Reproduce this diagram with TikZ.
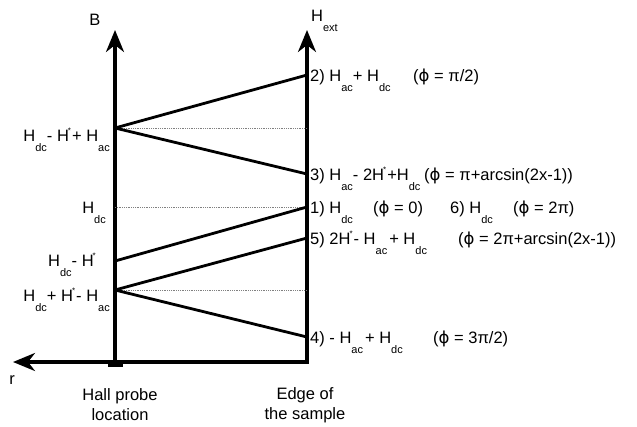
\documentclass[tikz,border=0pt]{standalone}
\usepackage{fontspec}
\setmainfont{Liberation Sans}
\newfontfamily\greekfont{DejaVu Sans}
\usetikzlibrary{arrows.meta}

% field symbols as printed: H with a low subscript, H with a star
\newcommand{\Hs}[1]{H\raisebox{-10pt}{\fontsize{11}{11}\selectfont #1}}
\newcommand{\Hstar}{H\kern-1pt\raisebox{8pt}{\fontsize{8}{8}\selectfont *}\kern1pt}
\newcommand{\phiS}{{\greekfont ϕ}}

\begin{document}
\begin{tikzpicture}[
    x=1pt, y=-1pt,
    >={Stealth[length=22pt, width=18pt, inset=7pt]},
    axis/.style={line width=3.3pt},
    ramp/.style={line width=2.8pt},
    guide/.style={gray, line width=0.8pt, densely dotted},
    lab/.style={font=\fontsize{16.5}{20}\selectfont, inner sep=0pt}
]
\useasboundingbox (0,0) rectangle (637,426);

% ---- axes: probe line (left) and sample edge (right) ----
\coordinate (ptop) at (115,30);
\coordinate (pbot) at (115,362);
\coordinate (etop) at (307,30);
\coordinate (ebot) at (307,362);
\coordinate (rtip) at (13,362);

\draw[axis, ->] (pbot) -- (ptop);
\draw[axis, <->] (rtip) -- (ebot) -- (etop);
\node[fill, minimum width=15pt, minimum height=6pt, inner sep=0pt, anchor=north] (probe) at (115,361) {};

% ---- field values at the probe ----
\coordinate (pA) at (115,128);
\coordinate (pD) at (115,207);
\coordinate (pS) at (115,261);
\coordinate (pB) at (115,290);

% ---- field values at the edge ----
\coordinate (e2) at (307,75);
\coordinate (eA) at (307,128);
\coordinate (e3) at (307,174);
\coordinate (e1) at (307,207);
\coordinate (e5) at (307,238);
\coordinate (eB) at (307,290);
\coordinate (e4) at (307,337);

% guides
\draw[guide] (pA) -- (eA);
\draw[guide] (pD) -- (e1);
\draw[guide] (pB) -- (eB);

% profiles
\draw[ramp] (pA) -- (e2);
\draw[ramp] (pA) -- (e3);
\draw[ramp] (pS) -- (e1);
\draw[ramp] (pB) -- (e5);
\draw[ramp] (pB) -- (e4);

% ---- axis labels ----
\node[lab] (lB) at (95,20) {B};
\node[lab, anchor=base west] (lHext) at (311,21) {\Hs{ext}};
\node[lab] (lr) at (12,380) {r};
\node[lab, align=center] (lhall) at (120,405) {Hall probe\\location};
\node[lab, align=center] (ledge) at (305,405) {Edge of\\the sample};

% ---- left labels ----
\node[lab, anchor=base east] (lA) at (110,141) {\Hs{dc}- \Hstar+ \Hs{ac}};
\node[lab, anchor=base east] (lD) at (106,213) {\Hs{dc}};
\node[lab, anchor=base east] (lS) at (97,266) {\Hs{dc}- \Hstar};
\node[lab, anchor=base east] (lBl) at (110,301) {\Hs{dc}+ \Hstar- \Hs{ac}};

% ---- right labels: field value, then phase ----
\node[lab, anchor=base west] (r2) at (310,81) {2) \Hs{ac}+ \Hs{dc}};
\node[lab, anchor=base west] (f2) at (413,81) {(\phiS\ = π/2)};
\node[lab, anchor=base west] (r3) at (310,180) {3) \Hs{ac}- 2\Hstar+\Hs{dc}};
\node[lab, anchor=base west] (f3) at (424,180) {(\phiS\ = π+arcsin(2x-1))};
\node[lab, anchor=base west] (r1) at (310,213) {1) \Hs{dc}};
\node[lab, anchor=base west] (f1) at (373,213) {(\phiS\ = 0)};
\node[lab, anchor=base west] (r6) at (450,213) {6) \Hs{dc}};
\node[lab, anchor=base west] (f6) at (513,213) {(\phiS\ = 2π)};
\node[lab, anchor=base west] (r5) at (310,244) {5) 2\Hstar- \Hs{ac}\kern2pt+ \Hs{dc}};
\node[lab, anchor=base west] (f5) at (458,244) {(\phiS\ = 2π+arcsin(2x-1))};
\node[lab, anchor=base west] (r4) at (310,343) {4) - \Hs{ac}\kern2pt+ \Hs{dc}};
\node[lab, anchor=base west] (f4) at (433,343) {(\phiS\ = 3π/2)};
\end{tikzpicture}
\end{document}
